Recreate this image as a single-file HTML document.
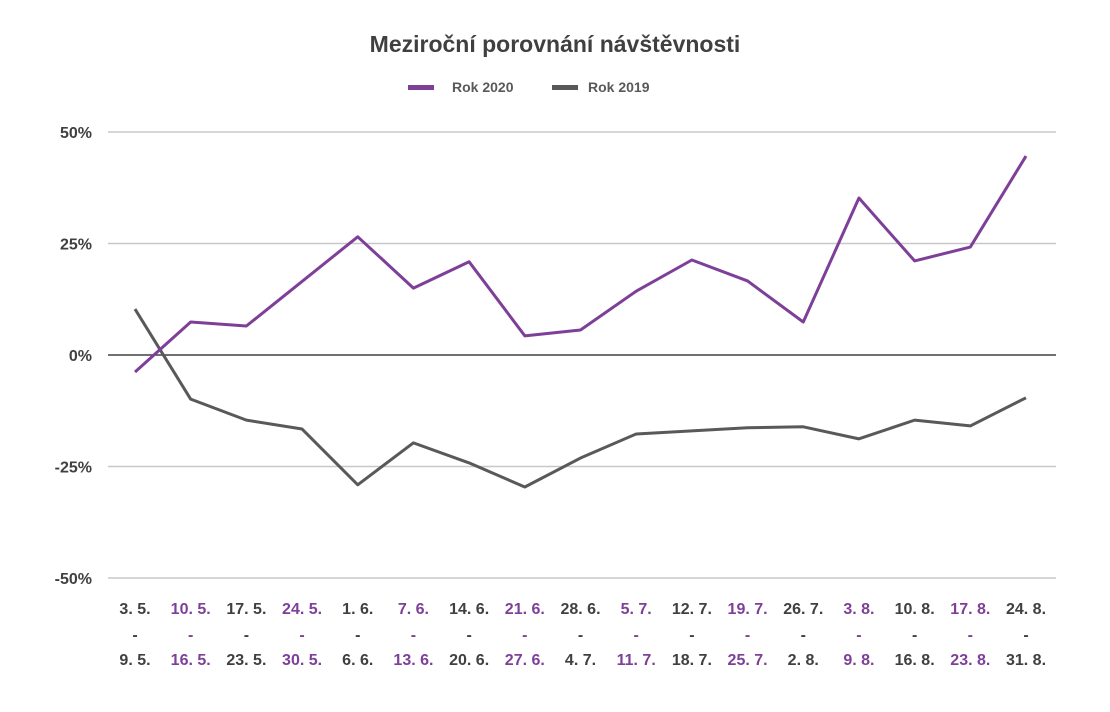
<!DOCTYPE html>
<html><head><meta charset="utf-8"><style>
body{margin:0;background:#fff;font-family:"Liberation Sans",sans-serif;}
svg text{font-family:"Liberation Sans",sans-serif;}
</style></head><body>
<svg id="chart" width="1110" height="707" xmlns="http://www.w3.org/2000/svg">
<text x="555" y="52" text-anchor="middle" font-size="23" font-weight="bold" fill="#404040">Meziroční porovnání návštěvnosti</text>
<g>
<g><rect x="408" y="85" width="26" height="5" fill="#7e3f98"/><text x="452" y="92" font-size="14" font-weight="bold" fill="#595959">Rok 2020</text></g>
<g><rect x="552" y="85" width="26" height="5" fill="#595959"/><text x="588" y="92" font-size="14" font-weight="bold" fill="#595959">Rok 2019</text></g>
</g>
<g id="grid"></g><g id="ylab"></g><g id="xlab"></g><g id="series"></g>
</svg>
<script>
const categoriesTop=["3. 5.","10. 5.","17. 5.","24. 5.","1. 6.","7. 6.","14. 6.","21. 6.","28. 6.","5. 7.","12. 7.","19. 7.","26. 7.","3. 8.","10. 8.","17. 8.","24. 8."];
const categoriesBottom=["9. 5.","16. 5.","23. 5.","30. 5.","6. 6.","13. 6.","20. 6.","27. 6.","4. 7.","11. 7.","18. 7.","25. 7.","2. 8.","9. 8.","16. 8.","23. 8.","31. 8."];
const series2020=[-3.8,7.4,6.5,16.5,26.5,15,20.9,4.3,5.6,14.3,21.3,16.6,7.4,35.2,21.1,24.2,44.6];
const series2019=[10.3,-9.9,-14.6,-16.6,-29.1,-19.7,-24.2,-29.6,-23.1,-17.7,-17,-16.3,-16.1,-18.8,-14.6,-15.9,-9.6];
const yTicks=[50,25,0,-25,-50];
const yTickLabels=["50%","25%","0%","-25%","-50%"];
const NS="http://www.w3.org/2000/svg";
const yS=v=>355-v*111.5/25;
const xS=i=>135+i*(1026-135)/(categoriesTop.length-1);
function mk(tag,attrs,parent){const e=document.createElementNS(NS,tag);for(const k in attrs)e.setAttribute(k,attrs[k]);parent.appendChild(e);return e;}
const grid=document.getElementById('grid'),ylab=document.getElementById('ylab'),xlab=document.getElementById('xlab'),ser=document.getElementById('series');
yTicks.forEach((t,i)=>{
 const l=mk('line',{x1:108,x2:1056,y1:yS(t),y2:yS(t),stroke:t===0?'#404040':'#c8c8c8','stroke-width':t===0?1.5:1.5},grid);
 
 
 const tx=mk('text',{x:92,y:yS(t)+6,'text-anchor':'end','font-size':16,'font-weight':'bold',fill:'#404040'},ylab);
 tx.textContent=yTickLabels[i];
 
 
});
categoriesTop.forEach((c,i)=>{
 const col=i%2?'#7e3f98':'#404040';
 const g=mk('g',{fill:col,'font-size':16,'font-weight':'bold','text-anchor':'middle'},xlab);
 
 
 mk('text',{x:xS(i),y:614},g).textContent=c;
 mk('text',{x:xS(i),y:640},g).textContent='-';
 mk('text',{x:xS(i),y:665},g).textContent=categoriesBottom[i];
});
function line(d,color,name){
 const p=mk('polyline',{points:d.map((v,i)=>xS(i)+','+yS(v)).join(' '),fill:'none',stroke:color,'stroke-width':3,'stroke-linejoin':'round'},ser);
 
 
}
line(series2019,'#595959','series-2019-line');
line(series2020,'#7e3f98','series-2020-line');
</script>
</body></html>
